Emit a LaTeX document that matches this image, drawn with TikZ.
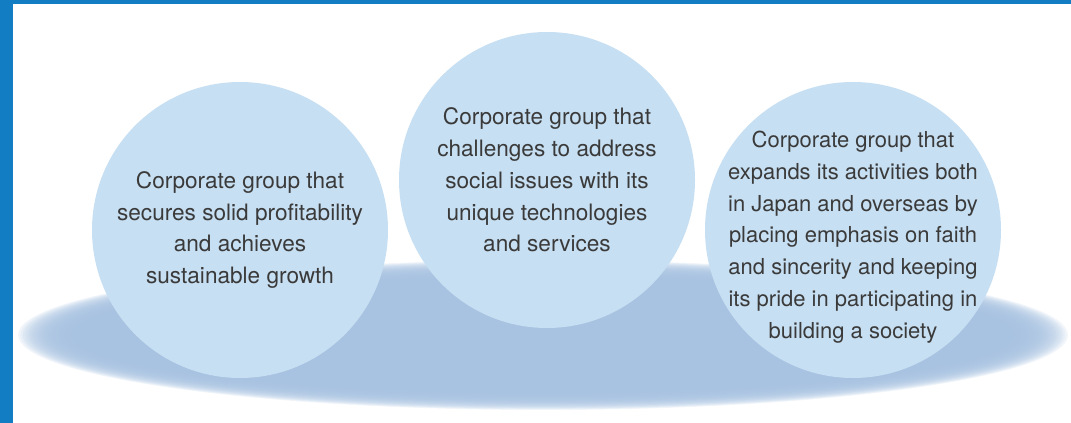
\documentclass[tikz,border=0pt]{standalone}
\usepackage{fontspec}
\setsansfont{TeX Gyre Heros}
\definecolor{frameBlue}{RGB}{18,125,195}
\definecolor{goalFill}{RGB}{199,223,242}
\definecolor{shadowBlue}{RGB}{166,193,224}
\definecolor{textGray}{RGB}{58,58,58}

\begin{document}
\begin{tikzpicture}[
  x=1pt, y=1pt,
  font=\sffamily,
  goal/.style={circle, fill=goalFill, inner sep=0pt, minimum size=296pt},
  goaltext/.style={align=center, text=textGray,
    font=\sffamily\fontsize{22.6}{31.8}\selectfont}
]
\useasboundingbox (0,0) rectangle (1071,423);

% Frame on the left and top edges.
\fill[frameBlue] (0,0) rectangle (13,423);
\fill[frameBlue] (0,419) rectangle (1071,423);

% The soft shadow the circles stand on.
\foreach \k in {0,...,24}
  \fill[shadowBlue, fill opacity=0.14]
    (543,88) ellipse [x radius=525-2.3*\k, y radius=75-0.7*\k];

% The three goals.
\node[goal, label={[goaltext]center:{Corporate group that\\secures solid profitability\\and achieves\\sustainable growth}}]
  (growth) at (240,193) {};
\node[goal, label={[goaltext]center:{Corporate group that\\challenges to address\\social issues with its\\unique technologies\\and services}}]
  (issues) at (547,243) {};
\node[goal, label={[goaltext, yshift=-7pt, font=\sffamily\fontsize{22}{31.8}\selectfont]center:{Corporate group that\\expands its activities both\\in Japan and overseas by\\placing emphasis on faith\\and sincerity and keeping\\its pride in participating in\\building a society}}]
  (society) at (853,193) {};

\end{tikzpicture}
\end{document}
